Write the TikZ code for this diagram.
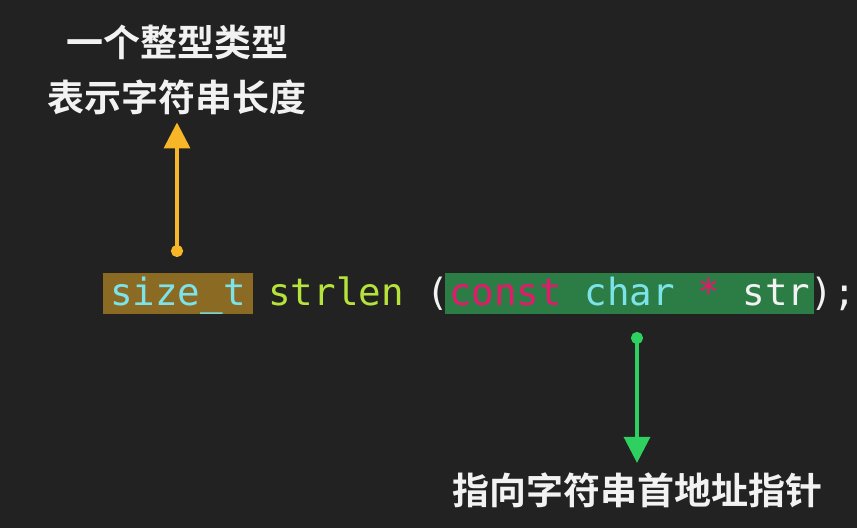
\documentclass[tikz,border=0pt]{standalone}
\usepackage{fontspec}
\newfontfamily\cjk{Noto Sans CJK SC}[BoldFont={* Bold}]
\newfontfamily\codefont{DejaVu Sans Mono}
\usepackage{tikz}
\usetikzlibrary{arrows.meta}

\definecolor{bgdark}{HTML}{222222}
\definecolor{sizebox}{HTML}{8B6A23}
\definecolor{ptrbox}{HTML}{2B7D45}
\definecolor{typecyan}{HTML}{7DE3EA}
\definecolor{funclime}{HTML}{B5E33B}
\definecolor{keypink}{HTML}{E5196B}
\definecolor{plainwhite}{HTML}{F2F2F2}
\definecolor{arroworange}{HTML}{F7B628}
\definecolor{arrowgreen}{HTML}{2ED15F}

\tikzset{
    code/.style={anchor=base west, inner sep=0pt, font=\codefont\fontsize{37.5}{40}\selectfont},
    hilite/.style={code, inner xsep=7.5pt, inner ysep=4pt, text height=28pt, text depth=5pt},
    label/.style={text=plainwhite, align=center, font=\cjk\bfseries\fontsize{37}{55}\selectfont},
    pointer/.style={line width=3.5pt, {Circle[length=12pt]}-{Triangle[length=26pt, width=26pt]}}
}

\begin{document}
\begin{tikzpicture}[x=1pt, y=-1pt]
    \useasboundingbox[fill=bgdark] (0,0) rectangle (857,528);

    % code line
    \node[hilite, fill=sizebox, text=typecyan] (sizet) at (102.5,305) {size\_t};
    \node[code, text=funclime] (strlen) at (268.2,305) {strlen};
    \node[code, text=plainwhite] (lparen) at (426.4,305) {(};
    \node[hilite, inner xsep=4pt, fill=ptrbox] (param) at (445,305) {\color{keypink}const \color{typecyan}char \color{keypink}* \color{plainwhite}str};
    \node[code, text=plainwhite] (rparen) at (810.6,305) {);};

    % labels
    \node[label] (typelabel) at (177,70) {一个整型类型\\表示字符串长度};
    \node[label] (ptrlabel) at (637,490) {指向字符串首地址指针};

    \coordinate (sizedot) at (177,257);
    \coordinate (paramdot) at (637,332);

    \draw[pointer, arroworange, shorten >=4pt] (sizedot) to (typelabel.south);
    \draw[pointer, arrowgreen, shorten >=6pt] (paramdot) to (ptrlabel.north);
\end{tikzpicture}
\end{document}
